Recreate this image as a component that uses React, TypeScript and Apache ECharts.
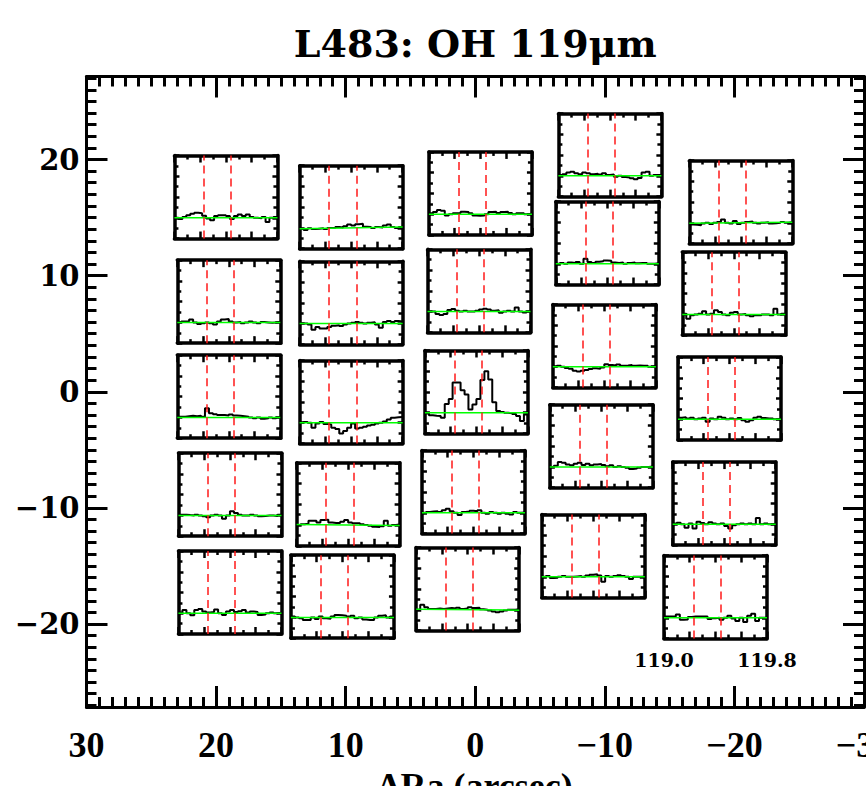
import React, { useEffect, useRef } from "react";
import * as echarts from "echarts";

// ---------- text ----------
const TITLE = "L483: OH 119μm";
const RA_NAME = "ΔRa (arcsec)";

// ---------- main map axes ----------
const RA_RANGE = [-30, 30];
const DEC_RANGE = [-27.15, 27.15];
const RA_MAJOR_STEP = 10;
const RA_MINOR_STEP = 1;
const DEC_MAJOR_TICKS = [-20, -10, 0, 10, 20];
const DEC_MINOR_TICKS = Array.from({ length: 55 }, (_, i) => i - 27);

// ---------- spectrum axes ----------
const WAVE_RANGE = [119.0, 119.8];
const WAVE_LABELS = [119.0, 119.8];
const FLUX_RANGE = [-0.5, 1.5];
const OH_LINES = [119.234, 119.441];
const WAVE_EDGES = [
  119.0, 119.031, 119.062, 119.092, 119.123, 119.154, 119.185, 119.215, 119.246,
  119.277, 119.308, 119.338, 119.369, 119.4, 119.431, 119.462, 119.492, 119.523,
  119.554, 119.585, 119.615, 119.646, 119.677, 119.708, 119.738, 119.769, 119.8,
];

// ---------- spaxel offsets (arcsec) ----------
const SPAXEL_RA = [
  19.24, 19.02, 19.02, 18.93, 18.93,
  9.58, 9.58, 9.58, 9.81, 10.25,
  -0.4, -0.29, -0.09, 0.14, 0.58,
  -10.39, -10.19, -9.96, -9.73, -9.11,
  -20.49, -19.95, -19.62, -19.21, -18.54,
];
const SPAXEL_DEC = [
  16.77, 7.76, -0.43, -8.87, -17.29,
  15.9, 7.66, -0.88, -9.69, -17.65,
  17.08, 8.69, -0.02, -8.64, -16.99,
  20.38, 12.81, 3.95, -4.69, -14.15,
  16.34, 8.44, -0.59, -9.63, -17.68,
];

// ---------- continuum-subtracted spectra (per bin) ----------
const FLUX_A1 = [0, -0.03, 0.02, 0.06, 0.1, 0.12, 0.11, 0.05, -0.02, -0.06, 0.04, 0.06, 0.06, 0.04, -0.03, 0.04, 0.08, 0.04, 0.08, 0.02, 0, -0.01, 0.02, -0.1, 0, 0.02];
const FLUX_A2 = [0, 0.02, 0.03, 0.07, 0, -0.04, -0.02, 0, -0.02, -0.05, 0.02, 0.07, 0.08, 0.02, 0, 0.01, -0.02, 0, 0.02, 0, -0.02, 0.01, 0, -0.01, 0, 0.01];
const FLUX_A3 = [0.02, 0.02, 0.03, 0.04, 0.03, 0.04, 0.02, 0.22, 0.1, 0.08, 0.06, 0.06, 0.05, 0.07, 0.05, 0.04, 0.03, 0.02, 0, -0.02, 0, -0.03, -0.02, 0, -0.02, 0];
const FLUX_A4 = [0.02, 0.02, 0.01, 0, 0.02, 0, -0.02, -0.04, 0, 0.02, 0, -0.08, 0, 0.1, 0.06, 0.02, 0, 0, 0.02, 0, -0.02, -0.01, 0, 0, -0.01, 0.02];
const FLUX_A5 = [0.02, 0.08, 0, -0.05, 0.08, 0.1, 0.04, 0.02, 0.03, 0.09, 0, -0.04, 0.04, 0.08, 0.03, 0.05, 0.08, 0.02, 0.04, 0.03, -0.04, -0.03, 0, 0.02, 0, 0.01];
const FLUX_B1 = [-0.02, -0.05, -0.01, -0.03, -0.02, -0.01, -0.03, 0, 0, 0.02, 0.01, 0.04, 0.08, 0.06, 0.09, 0.1, 0.03, 0.02, 0, 0.02, 0.01, 0.06, 0.08, 0.02, 0, 0.02];
const FLUX_B2 = [0, 0, -0.02, -0.15, -0.08, -0.12, -0.12, -0.08, -0.05, -0.04, -0.06, -0.02, 0, 0.02, 0.04, 0.02, 0, 0.02, 0.03, -0.02, -0.1, 0.04, 0.06, 0.04, 0.06, 0.05];
const FLUX_B3 = [0, 0.02, 0, -0.12, -0.02, 0.02, -0.03, -0.04, -0.12, -0.15, -0.26, -0.2, -0.12, -0.02, -0.14, -0.12, -0.1, -0.07, -0.05, -0.02, 0, 0.03, 0.08, 0.12, 0.13, 0.14];
const FLUX_B4 = [0, 0.02, 0.03, 0.1, 0.1, 0.06, 0.12, 0.13, 0.06, 0.05, 0.05, 0.08, 0.12, 0.06, 0.04, 0.04, 0.02, 0, -0.02, -0.04, -0.05, -0.03, 0.1, -0.02, 0, 0.01];
const FLUX_B5 = [0.02, 0, -0.02, -0.06, -0.06, 0, -0.04, 0.02, -0.02, -0.03, 0.02, 0.06, 0.05, 0.04, 0.02, 0.04, -0.02, 0, -0.05, -0.06, -0.06, 0, 0.04, 0.05, 0, 0.02];
const FLUX_C1 = [0.02, 0.05, 0.1, 0.08, -0.03, 0, 0.02, 0.03, 0.06, 0.05, 0.02, -0.03, -0.04, -0.03, 0, 0.05, 0.06, 0.03, 0.05, 0.06, 0.03, 0, 0.02, 0.02, 0, 0.01];
const FLUX_C2 = [0, 0, -0.06, -0.08, -0.06, 0.04, 0.06, 0.02, 0, 0.02, 0, 0, 0.02, 0.05, 0.07, 0.05, 0.02, 0.03, -0.03, 0, 0.02, 0, 0.1, 0, -0.02, 0];
const FLUX_C3 = [-0.02, -0.06, -0.07, -0.08, -0.12, 0.21, 0.33, 0.73, 0.73, 0.54, 0.44, 0.08, 0.2, 0.33, 0.79, 1.0, 0.8, 0.25, 0.04, 0.02, 0, -0.01, -0.03, -0.08, -0.2, -0.04];
const FLUX_C4 = [0, 0.02, 0.03, 0.04, 0.02, 0.06, 0.1, 0.04, 0, -0.05, 0.02, 0.03, 0.05, 0.04, 0.06, 0, -0.02, 0.02, 0, -0.02, 0, -0.02, -0.04, 0.02, 0, 0.01];
const FLUX_C5 = [0, 0.12, 0.06, 0.02, 0.02, 0.03, 0.02, 0.03, 0.04, 0.03, 0.05, 0.02, 0.03, 0.06, 0.04, 0.05, 0.01, 0, -0.02, -0.04, -0.06, -0.04, -0.02, 0, 0, 0.01];
const FLUX_D1 = [0.02, 0.04, 0.08, 0.1, 0.06, 0.04, 0.08, 0.06, 0.04, 0.05, 0.03, 0.06, 0.02, 0.03, -0.02, 0, -0.03, -0.04, -0.06, -0.08, -0.05, 0.08, 0.1, 0, 0.02, 0.02];
const FLUX_D2 = [0, 0.02, 0, 0.03, 0.02, 0.04, 0, 0.12, 0.04, 0.02, 0.05, 0.06, 0.08, 0.07, 0.03, 0.02, 0.03, 0, 0.02, 0.03, 0.01, 0.02, 0.02, 0, 0, 0.01];
const FLUX_D3 = [0, 0.02, 0, -0.03, -0.05, -0.1, -0.12, -0.1, -0.08, -0.06, -0.04, -0.05, -0.02, 0.06, 0.04, 0.03, 0.05, 0.02, 0.03, 0.04, 0.02, 0.03, 0.02, 0.02, 0, 0.01];
const FLUX_D4 = [0, 0.03, 0.12, 0.1, 0.06, 0.04, 0.08, 0.1, 0.05, 0.08, 0.04, 0.06, 0.07, 0.05, 0.02, 0.04, 0, 0.02, 0, -0.02, -0.05, -0.04, -0.02, 0, 0, 0.01];
const FLUX_D5 = [0, 0.02, -0.03, -0.02, 0, 0.02, 0, 0, 0.01, 0.02, 0, 0.03, 0.05, 0.06, 0.03, -0.12, 0.02, 0, 0.02, 0.04, 0.02, 0, -0.05, 0, 0, 0.01];
const FLUX_E1 = [-0.04, -0.05, -0.06, -0.02, 0, -0.03, 0, 0.02, 0.08, 0, -0.02, 0.04, -0.03, 0, 0.02, 0.03, 0, -0.02, 0, 0.01, -0.02, -0.01, 0, 0.02, 0, 0.01];
const FLUX_E2 = [0.02, -0.1, -0.02, 0, 0.02, 0.08, 0, 0.02, 0.1, 0.06, 0, -0.02, 0.04, 0.06, 0, 0.01, -0.02, -0.04, -0.02, -0.02, 0, 0, -0.02, 0.14, 0, 0.02];
const FLUX_E3 = [0.04, 0.05, 0.02, 0.04, 0, 0.02, 0.04, -0.06, 0.02, 0, 0.06, 0.04, 0, 0.02, 0, 0.03, -0.02, -0.06, -0.02, 0.04, 0.06, 0.03, 0.02, 0.02, 0, 0.01];
const FLUX_E4 = [0.02, 0.04, 0, -0.08, 0.02, -0.1, 0.06, 0.03, 0, 0.05, 0.02, 0, 0.02, -0.04, -0.1, -0.02, 0, 0.02, 0, 0.02, 0, 0.15, 0, 0.02, 0, 0.01];
const FLUX_E5 = [0.03, 0.03, 0.03, 0.08, -0.05, -0.04, 0.02, 0.03, 0.03, 0.03, 0.03, -0.03, -0.01, 0, -0.05, 0, 0.05, -0.02, -0.08, 0, -0.1, 0.05, 0.1, -0.08, 0, 0];

const SPECTRA = [
  FLUX_A1, FLUX_A2, FLUX_A3, FLUX_A4, FLUX_A5,
  FLUX_B1, FLUX_B2, FLUX_B3, FLUX_B4, FLUX_B5,
  FLUX_C1, FLUX_C2, FLUX_C3, FLUX_C4, FLUX_C5,
  FLUX_D1, FLUX_D2, FLUX_D3, FLUX_D4, FLUX_D5,
  FLUX_E1, FLUX_E2, FLUX_E3, FLUX_E4, FLUX_E5,
];

// linear continuum fit: value at 119.0 and at 119.8
const FIT_START = [0, 0, 0, 0, 0, -0.02, 0, 0, 0.01, 0, 0, 0, 0, 0, 0.01, 0, 0, 0, 0, 0, -0.01, 0, 0, 0, 0];
const FIT_END = [0, 0, 0, 0, 0, 0.02, 0, 0, -0.01, 0, 0, 0, 0, 0, -0.01, 0, 0, 0, 0, 0, 0.01, 0, 0, 0, 0];

const LABELLED_BOX = 24;

// ---------- styling ----------
const BOX_W = 103;
const BOX_H = 83;
const MAIN_GRID = { left: 86.5, top: 76.5, width: 777.5, height: 630.5 };
const INK = "#000000";

const fmtMinus = (v: number) => (v < 0 ? "\u2212" + Math.abs(v) : String(v));

function mainX(gridIndex: number, position: string, major: boolean, labels: boolean) {
  return {
    type: "value",
    gridIndex,
    position,
    min: RA_RANGE[0],
    max: RA_RANGE[1],
    interval: major ? RA_MAJOR_STEP : RA_MINOR_STEP,
    inverse: true,
    name: labels ? RA_NAME : "",
    nameLocation: "middle",
    nameGap: 58,
    nameTextStyle: { fontFamily: "Liberation Serif", fontWeight: "bold", fontSize: 36, color: INK },
    axisLine: { show: major, onZero: false, lineStyle: { color: INK, width: 3 } },
    axisTick: { show: true, inside: true, length: major ? 21 : 10, lineStyle: { color: INK, width: 3 } },
    axisLabel: labels
      ? { show: true, margin: 20, formatter: fmtMinus, fontFamily: "Liberation Serif", fontWeight: "bold", fontSize: 36, color: INK }
      : { show: false },
    splitLine: { show: false },
  };
}

function mainY(gridIndex: number, position: string, major: boolean, labels: boolean) {
  const ticks = major ? DEC_MAJOR_TICKS : DEC_MINOR_TICKS;
  return {
    type: "value",
    gridIndex,
    position,
    min: DEC_RANGE[0],
    max: DEC_RANGE[1],
    axisLine: { show: major, onZero: false, lineStyle: { color: INK, width: 3 } },
    axisTick: { show: true, inside: true, customValues: ticks, length: major ? 21 : 10, lineStyle: { color: INK, width: 3 } },
    axisLabel: labels
      ? { show: true, customValues: DEC_MAJOR_TICKS, margin: 7, formatter: fmtMinus, fontFamily: "DejaVu Serif", fontWeight: "bold", fontSize: 29, color: INK }
      : { show: false },
    splitLine: { show: false },
  };
}

function boxX(gridIndex: number, position: string, labels: boolean) {
  return {
    type: "value",
    gridIndex,
    position,
    min: WAVE_RANGE[0],
    max: WAVE_RANGE[1],
    interval: 0.2,
    axisLine: { show: true, onZero: false, lineStyle: { color: INK, width: 3.5 } },
    axisTick: { show: true, inside: true, length: 7, lineStyle: { color: INK, width: 2.5 } },
    minorTick: { show: true, splitNumber: 2, length: 4, lineStyle: { color: INK, width: 2.5 } },
    axisLabel: labels
      ? { show: true, customValues: WAVE_LABELS, margin: 12, formatter: (v: number) => v.toFixed(1), fontFamily: "DejaVu Serif", fontWeight: "bold", fontSize: 19, color: INK }
      : { show: false },
    splitLine: { show: false },
    minorSplitLine: { show: false },
  };
}

function boxY(gridIndex: number, position: string) {
  return {
    type: "value",
    gridIndex,
    position,
    min: FLUX_RANGE[0],
    max: FLUX_RANGE[1],
    interval: 0.5,
    axisLine: { show: true, onZero: false, lineStyle: { color: INK, width: 3.5 } },
    axisTick: { show: true, inside: true, length: 5, lineStyle: { color: INK, width: 2.5 } },
    minorTick: { show: true, splitNumber: 2, length: 4, lineStyle: { color: INK, width: 2.5 } },
    axisLabel: { show: false },
    splitLine: { show: false },
    minorSplitLine: { show: false },
  };
}

export default function App() {
  const ref = useRef<HTMLDivElement>(null);

  useEffect(() => {
    document.body.style.margin = "0";
    const el = ref.current;
    if (!el) return;
    const chart = echarts.init(el, null, { renderer: "svg" });

    const grids: any[] = [
      { ...MAIN_GRID, outerBoundsMode: "none" },
      { ...MAIN_GRID, outerBoundsMode: "none" },
    ];
    const xAxes: any[] = [
      mainX(0, "bottom", true, true),
      mainX(0, "top", true, false),
      mainX(1, "bottom", false, false),
      mainX(1, "top", false, false),
    ];
    const yAxes: any[] = [
      mainY(0, "left", true, true),
      mainY(0, "right", true, false),
      mainY(1, "left", false, false),
      mainY(1, "right", false, false),
    ];

    chart.setOption({ animation: false, grid: grids, xAxis: xAxes, yAxis: yAxes });

    const centers = SPAXEL_RA.map(
      (ra, i) => chart.convertToPixel({ xAxisIndex: 0, yAxisIndex: 0 }, [ra, SPAXEL_DEC[i]]) as number[]
    );
    const titleX = (chart.convertToPixel({ xAxisIndex: 0, yAxisIndex: 0 }, [0, 0]) as number[])[0];

    const series: any[] = [];
    centers.forEach((c, i) => {
      const gi = grids.length;
      grids.push({ left: c[0] - BOX_W / 2, top: c[1] - BOX_H / 2, width: BOX_W, height: BOX_H, outerBoundsMode: "none" });
      const xi = xAxes.length;
      xAxes.push(boxX(gi, "bottom", i === LABELLED_BOX));
      xAxes.push(boxX(gi, "top", false));
      const yi = yAxes.length;
      yAxes.push(boxY(gi, "left"));
      yAxes.push(boxY(gi, "right"));
      const spec = SPECTRA[i];
      series.push({
        type: "line",
        xAxisIndex: xi,
        yAxisIndex: yi,
        step: "end",
        symbol: "none",
        silent: true,
        z: 3,
        data: WAVE_EDGES.map((w, j) => [w, spec[Math.min(j, spec.length - 1)]]),
        lineStyle: { color: INK, width: 2 },
        markLine: {
          silent: true,
          symbol: ["none", "none"],
          label: { show: false },
          lineStyle: { color: "#ff1a1a", type: [8, 5], width: 1.5 },
          emphasis: { disabled: true },
          data: OH_LINES.map((v) => ({ xAxis: v })),
        },
      });
      series.push({
        type: "line",
        xAxisIndex: xi,
        yAxisIndex: yi,
        symbol: "none",
        silent: true,
        z: 4,
        data: [
          [WAVE_RANGE[0], FIT_START[i]],
          [WAVE_RANGE[1], FIT_END[i]],
        ],
        lineStyle: { color: "#00ff00", width: 1.5 },
      });
    });

    chart.setOption(
      {
        animation: false,
        grid: grids,
        xAxis: xAxes,
        yAxis: yAxes,
        series,
        graphic: [
          {
            type: "text",
            x: titleX,
            y: 24,
            style: {
              text: TITLE,
              fill: INK,
              fontFamily: "DejaVu Serif",
              fontWeight: "bold",
              fontSize: 38,
              align: "center",
              verticalAlign: "top",
            },
          },
        ],
      },
      true
    );

    return () => chart.dispose();
  }, []);

  return (
    <div
      ref={ref}
      style={{ position: "absolute", left: 0, top: 0, width: 866, height: 786, background: "#ffffff" }}
    />
  );
}
